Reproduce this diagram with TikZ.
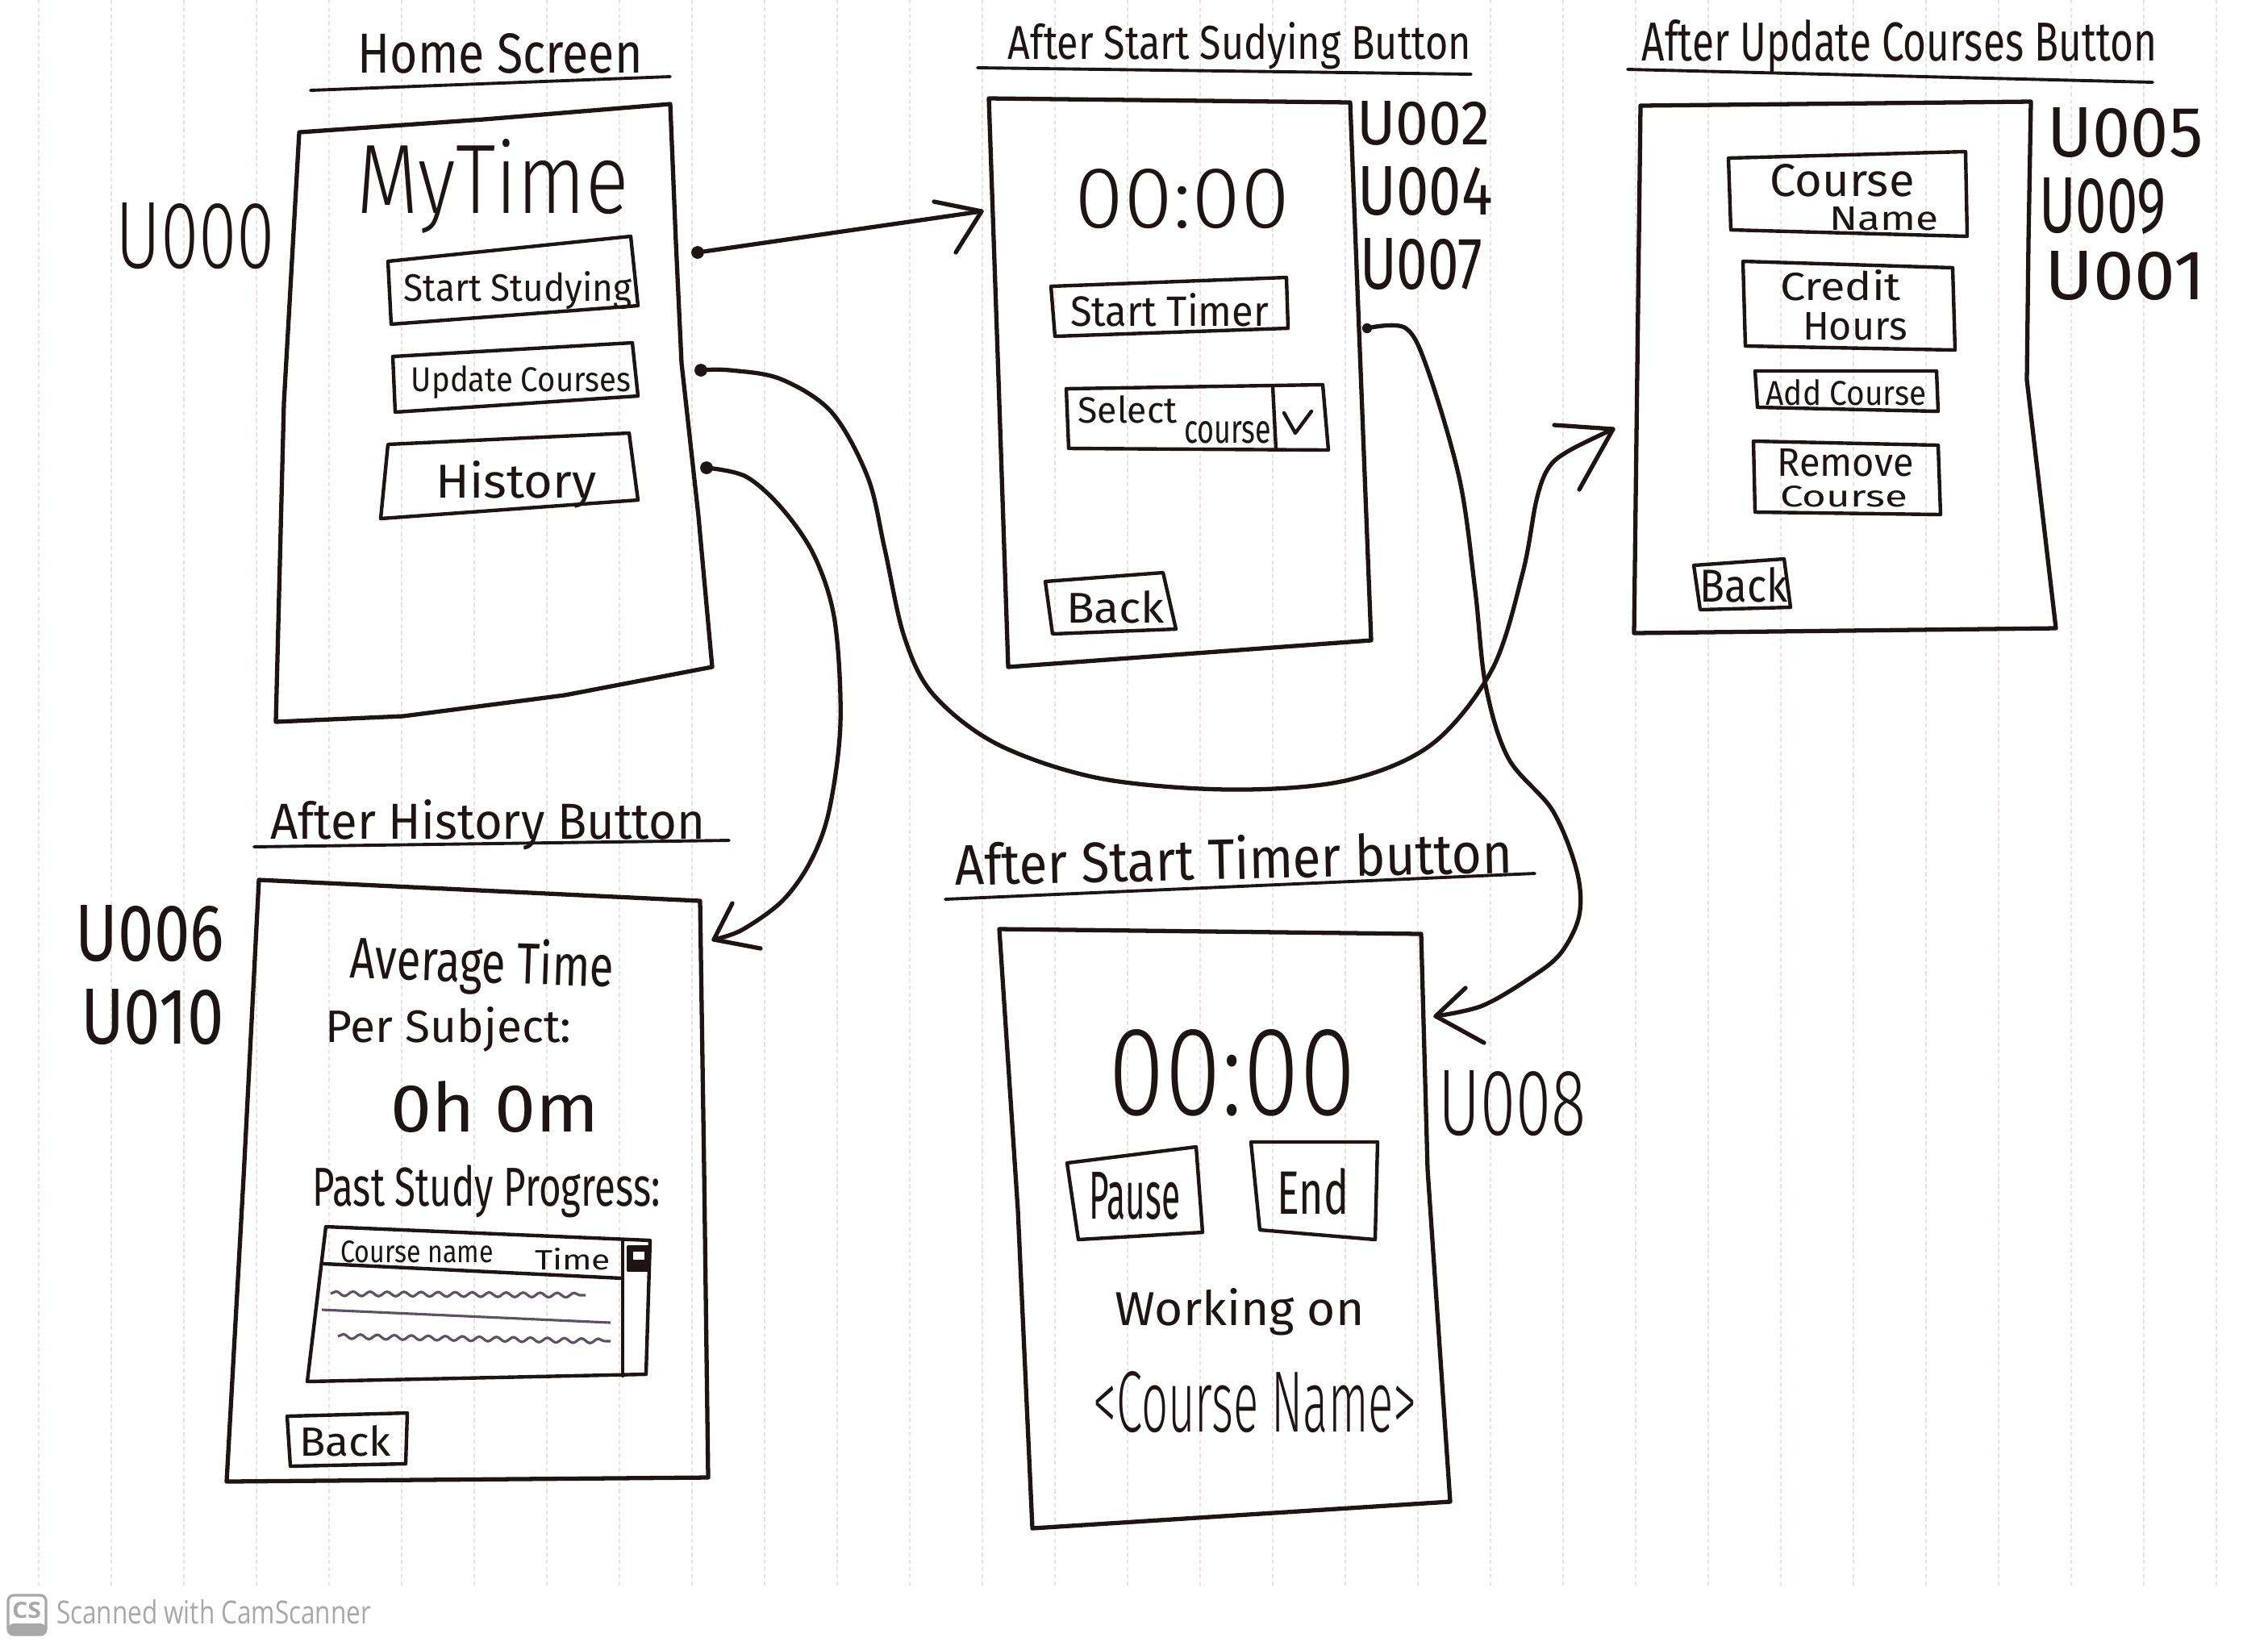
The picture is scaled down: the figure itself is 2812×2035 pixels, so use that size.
\documentclass[tikz,border=0pt]{standalone}
\usepackage{fontspec}
\usepackage{graphicx}
\setmainfont{Fira Sans}
\newfontfamily\lite{Fira Sans Light}
\newfontfamily\wmfont{Open Sans}
\usetikzlibrary{decorations.pathmorphing}
\newlength\pxu \setlength\pxu{0.01cm}
% hand-lettered text squeezed into a w x h box (in drawing units)
\newcommand\hw[3]{\resizebox{#1\pxu}{#2\pxu}{#3}}
\definecolor{ink}{RGB}{30,20,20}
\definecolor{rowink}{RGB}{95,80,100}
\definecolor{paperrule}{RGB}{238,224,226}
\definecolor{wm}{RGB}{168,168,168}
\begin{document}
\begin{tikzpicture}[x=0.01cm, y=-0.01cm,
  screen/.style={draw=ink, line width=1.5pt, line join=round, line cap=round},
  btn/.style={draw=ink, line width=1.25pt, line join=round, line cap=round},
  uline/.style={draw=ink, line width=1.1pt, line cap=round},
  link/.style={draw=ink, line width=1.5pt, line cap=round, line join=round},
  lbl/.style={text=ink, inner sep=0pt, anchor=base},
  pin/.style={circle, fill=ink, inner sep=0pt, minimum size=4.5pt},
  row/.style={draw=rowink, line width=0.9pt, decorate, decoration={snake, amplitude=0.8pt, segment length=6pt}},
]
\fill[white] (0,0) rectangle (2812,2035);
\useasboundingbox (0,0) rectangle (2812,2035);

% ruled paper
\foreach \k in {0,...,30} {
  \draw[paperrule, line width=0.7pt, dash pattern=on 1.5pt off 1pt] ({48+90*\k},0) -- ({48+90*\k},1968);
}

% ---------------- Home screen ----------------
\draw[uline] (385,112) -- (831,95);
\node[lbl] (homeTitle) at (620,90) {\hw{353}{49}{Home Screen}};
\draw[screen] (371,164) -- (600,148) -- (831,129) -- (838,300) -- (845,450) -- (866,640) -- (883,827) -- (700,862) -- (500,888) -- (342,895) -- (352,500) -- cycle;
\node[lbl] (myTime) at (611,264) {\hw{337}{92}{\lite MyTime}};
\draw[btn] (481,324) -- (782,293) -- (791,379) -- (485,402) -- cycle;
\node[lbl] (bStart) at (642,373) {\hw{283}{37}{Start Studying}};
\draw[btn] (487,442) -- (784,425) -- (791,491) -- (490,511) -- cycle;
\node[lbl] (bUpdate) at (646,485) {\hw{272}{32}{Update Courses}};
\draw[btn] (481,551) -- (780,537) -- (791,620) -- (472,643) -- cycle;
\node[lbl] (bHistory) at (640,617) {\hw{199}{46}{History}};
\node[lbl] (u000) at (242,332) {\hw{198}{81}{\lite U000}};

\node[pin] (d1) at (865,313) {};
\node[pin] (d2) at (869,459) {};
\node[pin] (d3) at (876,580) {};

% ---------------- After Start Studying ----------------
\draw[uline] (1212,84) -- (1824,92);
\node[lbl] (ssTitle) at (1537,73) {\hw{574}{46}{After Start Sudying Button}};
\draw[screen] (1226,122) -- (1674,127) -- (1687,460) -- (1700,794) -- (1250,827) -- (1238,470) -- cycle;
\node[lbl] (clockA) at (1466,282) {\hw{267}{73}{\lite 00:00}};
\draw[btn] (1303,355) -- (1595,344) -- (1597,407) -- (1308,417) -- cycle;
\node[lbl] (bTimer) at (1450,404) {\hw{246}{41}{Start Timer}};
\draw[btn] (1322,482) -- (1640,477) -- (1647,558) -- (1325,556) -- cycle;
\draw[btn] (1578,479) -- (1582,557);
\draw[btn] (1592,512) -- (1606,537) -- (1626,510);
\node[lbl] (selA) at (1398,524) {\hw{123}{34}{Select}};
\node[lbl] (selB) at (1522,549) {\hw{108}{27}{course}};
\draw[btn] (1296,721) -- (1442,710) -- (1458,780) -- (1305,786) -- cycle;
\node[lbl] (backA) at (1383,772) {\hw{122}{40}{Back}};
\node[lbl] (u002) at (1765,179) {\hw{165}{54}{U002}};
\node[lbl] (u004) at (1767,266) {\hw{167}{60}{U004}};
\node[lbl] (u007) at (1762,358) {\hw{152}{63}{U007}};
\node[pin, minimum size=3.5pt] (d4) at (1695,407) {};

% ---------------- After Update Courses ----------------
\draw[uline] (2018,86) -- (2669,102);
\node[lbl] (ucTitle) at (2355,75) {\hw{638}{51}{After Update Courses Button}};
\draw[screen] (2034,131) -- (2518,126) -- (2515,300) -- (2513,471) -- (2549,779) -- (2026,785) -- cycle;
\draw[btn] (2143,196) -- (2437,188) -- (2439,293) -- (2146,285) -- cycle;
\node[lbl] (cnA) at (2284,243) {\hw{179}{40}{Course}};
\node[lbl] (cnB) at (2336,285) {\hw{135}{29}{Name}};
\draw[btn] (2161,324) -- (2421,332) -- (2424,434) -- (2164,429) -- cycle;
\node[lbl] (chA) at (2282,372) {\hw{150}{38}{Credit}};
\node[lbl] (chB) at (2300,421) {\hw{130}{34}{Hours}};
\draw[btn] (2176,460) -- (2401,460) -- (2403,510) -- (2179,505) -- cycle;
\node[lbl] (addC) at (2289,502) {\hw{199}{32}{Add Course}};
\draw[btn] (2174,547) -- (2403,552) -- (2406,638) -- (2176,635) -- cycle;
\node[lbl] (rmA) at (2288,590) {\hw{169}{34}{Remove}};
\node[lbl] (rmB) at (2286,628) {\hw{158}{26}{Course}};
\draw[btn] (2100,701) -- (2212,693) -- (2220,753) -- (2108,756) -- cycle;
\node[lbl] (backB) at (2162,746) {\hw{109}{43}{Back}};
\node[lbl] (u005) at (2635,194) {\hw{193}{61}{U005}};
\node[lbl] (u009) at (2607,288) {\hw{158}{68}{U009}};
\node[lbl] (u001) at (2635,371) {\hw{199}{60}{U001}};

% ---------------- After History ----------------
\draw[uline] (315,1050) -- (904,1042);
\node[lbl] (hTitle) at (605,1040) {\hw{539}{49}{After History Button}};
\draw[screen] (321,1091) -- (868,1117) -- (873,1450) -- (878,1832) -- (281,1837) -- (302,1460) -- cycle;
\node[lbl] (u006) at (186,1191) {\hw{184}{69}{U006}};
\node[lbl] (u010) at (189,1294) {\hw{178}{68}{U010}};
\node[lbl, rotate=-2] (avgA) at (597,1218) {\hw{327}{56}{Average Time}};
\node[lbl] (avgB) at (556,1292) {\hw{305}{44}{Per Subject:}};
\node[lbl] (avgC) at (614,1403) {\hw{258}{63}{0h 0m}};
\node[lbl] (past) at (603,1495) {\hw{431}{51}{Past Study Progress:}};
% progress table with scroll bar
\draw[btn] (404,1521) -- (806,1538) -- (801,1704) -- (381,1713) -- cycle;
\draw[btn] (772,1537) -- (772,1706);
\draw[btn] (402,1567) -- (772,1585);
\draw[btn, fill=ink] (779,1546) rectangle (804,1575);
\fill[white] (785,1552) rectangle (799,1562);
\node[lbl] (colName) at (517,1565) {\hw{189}{27}{Course name}};
\node[lbl] (colTime) at (710,1574) {\hw{94}{27}{Time}};
\draw[row] (410,1604) -- (726,1606);
\draw[rowink, line width=0.9pt] (399,1624) -- (757,1640);
\draw[row] (419,1657) -- (757,1663);
\draw[btn] (356,1756) -- (505,1752) -- (503,1815) -- (360,1818) -- cycle;
\node[lbl] (backC) at (428,1805) {\hw{114}{38}{Back}};

% ---------------- After Start Timer ----------------
\draw[uline] (1172,1115) -- (1903,1083);
\node[lbl, rotate=1.3] (tTitle) at (1530,1090) {\hw{691}{55}{After Start Timer button}};
\draw[screen] (1239,1152) -- (1762,1158) -- (1770,1450) -- (1798,1862) -- (1280,1895) -- (1262,1500) -- cycle;
\node[lbl] (clockB) at (1528,1382) {\hw{306}{106}{\lite 00:00}};
\draw[btn] (1323,1442) -- (1483,1422) -- (1491,1528) -- (1337,1537) -- cycle;
\node[lbl] (bPause) at (1407,1511) {\hw{113}{58}{Pause}};
\draw[btn] (1551,1416) -- (1708,1416) -- (1705,1537) -- (1562,1525) -- cycle;
\node[lbl] (bEnd) at (1628,1505) {\hw{89}{57}{End}};
\node[lbl] (workA) at (1537,1643) {\hw{309}{46}{Working on}};
\node[lbl] (workB) at (1556,1775) {\hw{401}{75}{\lite <Course Name>}};
\node[lbl] (u008) at (1875,1407) {\hw{183}{80}{\lite U008}};

% ---------------- transitions ----------------
\coordinate (h1) at (1217,262);
\coordinate (h1a) at (1158,250);
\coordinate (h1b) at (1185,313);
\draw[link] (d1) -- (h1);
\draw[link] (h1a) -- (h1) -- (h1b);

\coordinate (h2) at (2000,532);
\coordinate (h2a) at (1927,527);
\coordinate (h2b) at (1958,607);
\draw[link] plot[smooth, tension=0.55] coordinates {(d2) (905,459) (968,470) (1031,511) (1076,592) (1097,681) (1121,789) (1157,861) (1237,923) (1363,965) (1524,979) (1668,968) (1775,923) (1850,830) (1888,710) (1905,620) (1920,580) (1945,559) (h2)};
\draw[link] (h2a) -- (h2) -- (h2b);

\coordinate (h3) at (885,1165);
\coordinate (h3a) at (908,1120);
\coordinate (h3b) at (943,1176);
\draw[link] plot[smooth, tension=0.55] coordinates {(d3) (925,591) (970,631) (1010,690) (1035,770) (1042,897) (1028,1005) (1005,1068) (970,1117) (920,1153) (h3)};
\draw[link] (h3a) -- (h3) -- (h3b);

\coordinate (h4) at (1780,1260);
\coordinate (h4a) at (1817,1225);
\coordinate (h4b) at (1840,1293);
\draw[link] plot[smooth, tension=0.55] coordinates {(d4) (1743,407) (1771,461) (1810,596) (1829,732) (1842,850) (1870,940) (1925,1005) (1955,1080) (1958,1135) (1935,1182) (1898,1212) (1838,1247) (h4)};
\draw[link] (h4a) -- (h4) -- (h4b);

% ---------------- scanner mark ----------------
\draw[wm, line width=0.9pt, rounded corners=2pt] (10,1978) rectangle (57,2027);
\fill[wm, rounded corners=2pt] (10,2013) rectangle (57,2027);
\node[text=wm, inner sep=0pt, anchor=base] (csMark) at (33,2006) {\hw{36}{20}{\wmfont\bfseries CS}};
\node[text=wm, inner sep=0pt, anchor=base] (csText) at (265,2013) {\hw{390}{30}{\wmfont Scanned with CamScanner}};
\end{tikzpicture}
\end{document}
